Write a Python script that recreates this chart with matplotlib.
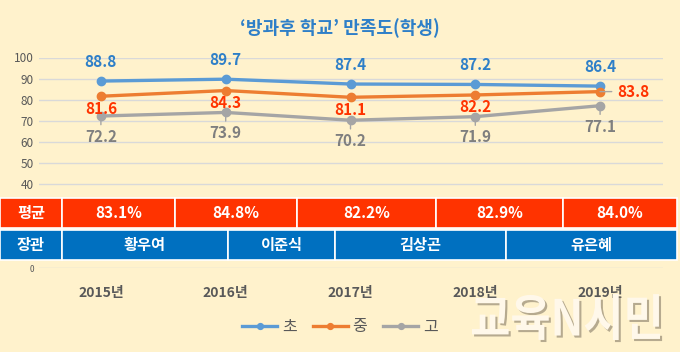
import matplotlib.pyplot as plt
from matplotlib.patches import Rectangle, PathPatch
from matplotlib.textpath import TextPath
from matplotlib.font_manager import FontProperties
from matplotlib.transforms import Affine2D, IdentityTransform
import matplotlib.patheffects as pe

plt.rcParams['font.family'] = ['Noto Sans CJK KR', 'DejaVu Sans']

# 데이터
years = ['2015년', '2016년', '2017년', '2018년', '2019년']
elem = [88.8, 89.7, 87.4, 87.2, 86.4]     # 초
middle = [81.6, 84.3, 81.1, 82.2, 83.8]   # 중
high = [72.2, 73.9, 70.2, 71.9, 77.1]     # 고
avg_labels = ['83.1%', '84.8%', '82.2%', '82.9%', '84.0%']
ministers = ['황우여', '이준식', '김상곤', '유은혜']

W, H = 680, 352
BG = '#FFF2CC'
fig = plt.figure(figsize=(W / 100, H / 100), dpi=100, facecolor=BG)

def fx(px):
    return px / W

def fy(py):
    return 1 - py / H

ax = fig.add_axes([fx(38.5), fy(268), fx(624), (268 - 57.5) / H])
ax.set_facecolor('none')
for s in ax.spines.values():
    s.set_visible(False)

colors = ['#5B9BD5', '#ED7D31', '#A5A5A5']
x = range(len(years))
ax.plot(x, elem, color=colors[0], lw=2.4, marker='o', ms=6, label='초', zorder=3)
ax.plot(x, middle, color=colors[1], lw=2.4, marker='o', ms=6, label='중', zorder=3)
ax.plot(x, high, color=colors[2], lw=2.4, marker='o', ms=6, label='고', zorder=3)

ax.set_xlim(-0.5, len(years) - 0.5)
ax.set_ylim(0, 100)
yt = list(range(0, 101, 10))
ax.set_yticks(yt, [str(v) if v >= 40 or v == 0 else '' for v in yt])
ax.grid(axis='y', color='#D9D9D9', lw=1, zorder=0)
ax.tick_params(length=0, labelsize=8.5, labelcolor='#595959')
ax.get_yticklabels()[0].set_fontsize(6)
ax.tick_params(axis='x', pad=13)
ax.set_xticks(list(x), years)
for t in ax.get_xticklabels():
    t.set_fontweight('bold')
    t.set_fontsize(10)

# 데이터 레이블
for i in x:
    ax.annotate(f'{elem[i]}', (i, elem[i]), xytext=(0, 14), textcoords='offset points',
                ha='center', va='center', color='#2E7FC8', fontsize=11, fontweight='bold')
    if i < len(years) - 1:
        ax.annotate(f'{middle[i]}', (i, middle[i]), xytext=(0, -9), textcoords='offset points',
                    ha='center', va='center', color='#FF3300', fontsize=11, fontweight='bold')
    else:
        ax.annotate(f'{middle[i]}', (i, middle[i]), xytext=(24, 0), textcoords='offset points',
                    ha='center', va='center', color='#FF3300', fontsize=11, fontweight='bold',
                    arrowprops=dict(arrowstyle='-', color='#A5A5A5', lw=1, shrinkA=2, shrinkB=0))
    ax.annotate(f'{high[i]}', (i, high[i]), xytext=(0, -15), textcoords='offset points',
                ha='center', va='center', color='#7F7F7F', fontsize=11, fontweight='bold',
                arrowprops=dict(arrowstyle='-', color='#A5A5A5', lw=1, shrinkA=1, shrinkB=0))

# 표 (평균 / 장관)
red, blue = '#FF3300', '#0070C0'
avg_edges = [62, 175, 297, 436, 563, 677]
min_edges = [62, 228, 335, 506, 677]

def cell(x0, x1, y0, y1, color, text):
    fig.add_artist(Rectangle((fx(x0), fy(y1)), fx(x1 - x0), (y1 - y0) / H,
                             transform=fig.transFigure, facecolor=color,
                             edgecolor='white', lw=1.2, zorder=5))
    fig.text(fx((x0 + x1) / 2), fy((y0 + y1) / 2), text, ha='center', va='center',
             color='white', fontsize=11, fontweight='bold', zorder=6)

cell(0, 62, 198, 228, red, '평균')
for i, lab in enumerate(avg_labels):
    cell(avg_edges[i], avg_edges[i + 1], 198, 228, red, lab)
cell(0, 62, 230, 260, blue, '장관')
for i, name in enumerate(ministers):
    cell(min_edges[i], min_edges[i + 1], 230, 260, blue, name)

# 제목
fig.text(fx(340), fy(28), '‘방과후 학교’ 만족도(학생)', ha='center', va='center',
         color='#2E7FC8', fontsize=13, fontweight='bold')

# 범례
fig.legend(loc='center', bbox_to_anchor=(fx(340), fy(327)), ncol=3, frameon=False,
           fontsize=11.5, labelcolor='#595959', handlelength=2.2, columnspacing=1.0,
           handletextpad=0.3, markerscale=0.7)

# 워터마크 (세로로 늘린 글자)
tp = TextPath((0, 0), '교육N시민', size=40,
              prop=FontProperties(family='Noto Sans CJK KR', weight='bold'))
bb = tp.get_extents()
sx, sy = 188 / bb.width, 46 / bb.height
tr = Affine2D().translate(-bb.x0, -bb.y0).scale(sx, sy).translate(472, H - 340)
wm = PathPatch(tr.transform_path(tp), transform=IdentityTransform(),
               facecolor='#FFF8EA', edgecolor='none', zorder=7,
               path_effects=[pe.SimplePatchShadow(offset=(1.5, -1.5), shadow_rgbFace='#7a705e', alpha=0.55),
                             pe.Normal()])
fig.add_artist(wm)

fig.savefig('out.png', dpi=100, facecolor=BG)
